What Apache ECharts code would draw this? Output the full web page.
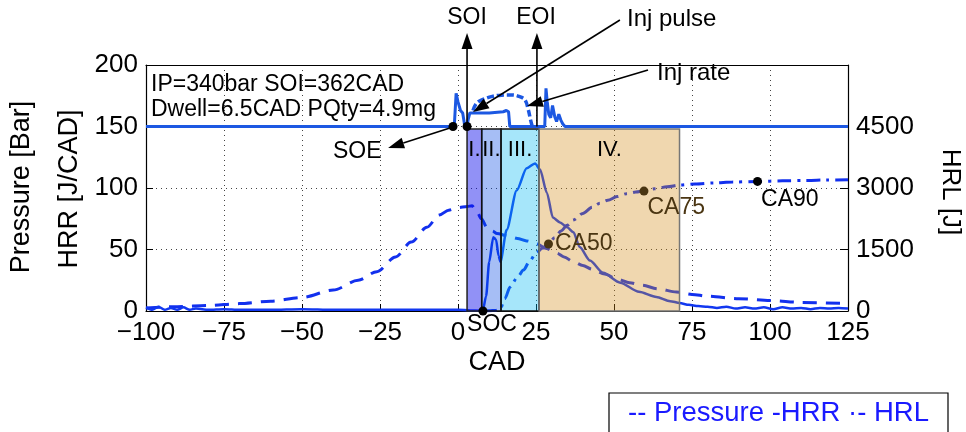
<!DOCTYPE html>
<html>
<head>
<meta charset="utf-8">
<script src="https://cdn.jsdelivr.net/npm/echarts@6/dist/echarts.min.js"></script>
<style>
  html, body { margin: 0; padding: 0; background: #fff; }
  #main { width: 966px; height: 432px; }
</style>
</head>
<body>
<div id="main"></div>
<script>
// crank angle axis
const cadMin = -100, cadMax = 125, cadStep = 25;

// cylinder pressure [bar]
const pressureCad = [-100,-90,-80,-70,-60,-50,-40,-32,-26,-20,-15,-10,-6,-3,0,3,4.5,6,7.5,9.3,11,12.5,16,19,22,25,28,31.7,34,37,40,43,47,51,55,59,64,70,75,80,90,100,110,125];
const pressureBar = [2.5,3.5,4.5,6,8,11,17,25,32,44,56,68,78,82,84,85,85.5,81,75,68,65,63,61,59,57,55,51,47,44,40,37,34,30,26,23,21,18,15.5,13.5,12,10,8.5,7,6];

// heat release rate [J/CAD]
const hrrCad = [-100,-98,-96,-94,-92,-90,-88,-86,-84,-80,-75,-70,-60,-50,-40,-30,-20,-10,0,4,7,8,9,10,11.3,12.2,13,13.6,15.6,18.8,22,24.7,26.3,28.5,30.4,32.7,35,37,39,42.3,46.5,52,58,63.6,68,71,74,77,80,83,86,89,92,95,98,101,104,107,110,113,116,119,122,125];
const hrrVal = [3,1,3.5,1,2.5,1,3,1,2,1,1.5,1,1,1.5,1,1,1,1,1,0.5,0.3,1,12,40,60,58,45,40,66,98,116,120,115,96,76,72,68,64,52,41,31,23,15.6,11.4,8,6.5,5,4,3.5,2.5,3.5,2,3,2,3,1.5,3,2,2.5,1.5,2.5,2,2.5,2];

// cumulative heat release [J]
const hrlCad = [8,10,12,13.5,15,16.7,19,21,23,25,27,29,31,33,35,37,40,43,45.5,48,51,54,57,59.6,63,67,71,76,82,88,96,104,112,118,125];
const hrlJ = [0,5,15,40,300,585,820,1000,1220,1410,1530,1635,1790,1950,2090,2220,2380,2530,2630,2700,2790,2860,2900,2925,2980,3030,3070,3100,3125,3145,3160,3175,3185,3195,3200];

// injector signals (drawn on the pressure scale)
const injPulseCad = [-100,-2,-1.2,-0.6,0,0.8,1.5,2.2,2.9,3.3,3.8,10,14.5,15.5,16.2,16.6,27.8,28.2,28.6,29.1,29.7,30.3,31,31.6,32.3,33,33.6,34.3,125];
const injPulseVal = [150,150,150,177,170,163,161,150,150,156,161,161,162,163,162,150,150,181,170,160,157,167,158,154,160,155,152,150,150];
const injRateCad = [4.8,6,8,11,14,17.5,20,21.5,22.5,23.2,23.8];
const injRateVal = [163,169,172,174.5,175.5,175.6,174,171.5,164,156,150];

// combustion phases
const phaseNames = ['I.', 'II.', 'III.', 'IV.'];
const phaseStart = [2.9, 7.6, 13.8, 26];
const phaseEnd = [7.6, 13.8, 26, 71];
const phaseTop = 148;

// events
const eventNames = ['SOE', 'SOI', 'SOC'];
const eventCad = [-1.6, 2.9, 8];
const eventVal = [150, 150, 0];
const caNames = ['CA50', 'CA75', 'CA90'];
const caCad = [29, 59.6, 96];
const caJ = [1635, 2925, 3160];

const FONT = "'Liberation Sans', Arial, Helvetica, sans-serif";
const chart = echarts.init(document.getElementById('main'));

function pairs(xs, ys) {
  return xs.map((x, i) => [x, ys[i]]);
}

const phaseFill = ['rgba(10,10,235,0.45)', 'rgba(0,69,226,0.35)', 'rgba(0,183,240,0.35)', 'rgba(211,140,26,0.35)'];
const phaseBorder = ['#222', '#111', '#111', '#777'];
const brown = '#4a3512';

var option = {
  animation: false,
  grid: { left: 146, right: 118, top: 65, bottom: 121 },
  xAxis: [{
    type: 'value', min: cadMin, max: cadMax, interval: cadStep,
    axisLine: { onZero: false, lineStyle: { color: '#000', width: 1.2 } },
    axisTick: { inside: true, length: 7, lineStyle: { color: '#000' } },
    axisLabel: {
      fontSize: 26, fontFamily: FONT, color: '#000', margin: 9,
      formatter: v => v < 0 ? '\u2212' + Math.abs(v) : String(v)
    },
    splitLine: { show: true, lineStyle: { type: [1, 4], color: '#444', width: 1 } }
  }, {
    type: 'value', position: 'top', min: cadMin, max: cadMax, interval: cadStep,
    axisLine: { show: true, onZero: false, lineStyle: { color: '#000', width: 1.2 } },
    axisTick: { show: false },
    axisLabel: { show: false },
    splitLine: { show: false }
  }],
  yAxis: [{
    type: 'value', min: 0, max: 200, interval: 50,
    axisLine: { show: true, onZero: false, lineStyle: { color: '#000', width: 1.2 } },
    axisTick: { show: true, inside: true, length: 7, lineStyle: { color: '#000' } },
    axisLabel: { fontSize: 26, fontFamily: FONT, color: '#000', margin: 8 },
    splitLine: { show: true, lineStyle: { type: [1, 4], color: '#444', width: 1 } }
  }, {
    type: 'value', min: 0, max: 6000, interval: 1500, position: 'right',
    axisLine: { show: true, onZero: false, lineStyle: { color: '#000', width: 1.2 } },
    axisTick: { show: true, inside: true, length: 8, lineStyle: { color: '#000' } },
    axisLabel: {
      fontSize: 26, fontFamily: FONT, color: '#000', margin: 8,
      formatter: v => v >= 6000 ? '' : String(v)
    },
    splitLine: { show: false }
  }],
  series: [{
    name: 'Pressure', type: 'line', data: pairs(pressureCad, pressureBar),
    smooth: 0.3, smoothMonotone: 'x', symbol: 'none', z: 2,
    lineStyle: { color: '#1230ee', width: 3, type: [14, 9] }
  }, {
    name: 'HRR', type: 'line', data: pairs(hrrCad, hrrVal),
    smooth: 0.25, smoothMonotone: 'x', symbol: 'none', z: 2,
    lineStyle: { color: '#1238f0', width: 2.5 },
    markArea: {
      silent: true, z: 4,
      label: { position: 'insideTop', distance: 11, fontSize: 22, fontFamily: FONT, color: '#000' },
      data: phaseNames.map((n, i) => [
        { name: n, coord: [phaseStart[i], 0], itemStyle: { color: phaseFill[i], borderColor: phaseBorder[i], borderWidth: 1.5 } },
        { coord: [phaseEnd[i], phaseTop] }
      ])
    }
  }, {
    name: 'HRL', type: 'line', yAxisIndex: 1, data: pairs(hrlCad, hrlJ),
    smooth: 0.3, smoothMonotone: 'x', symbol: 'none', z: 2,
    lineStyle: { color: '#1230ee', width: 3, type: [14, 6, 3, 6] }
  }, {
    name: 'Inj pulse', type: 'line', data: pairs(injPulseCad, injPulseVal),
    symbol: 'none', z: 2,
    lineStyle: { color: '#1c58e2', width: 3 }
  }, {
    name: 'Inj rate', type: 'line', data: pairs(injRateCad, injRateVal),
    smooth: 0.4, symbol: 'none', z: 2,
    lineStyle: { color: '#1c58e2', width: 3.5, type: [7, 3] }
  }, {
    name: 'events', type: 'scatter', z: 8,
    symbolSize: 9, itemStyle: { color: '#000', opacity: 1 },
    data: eventCad.map((x, i) => ({
      value: [x, eventVal[i]], name: eventNames[i],
      label: eventNames[i] === 'SOC' ? {
        show: true, formatter: '{b}', position: 'bottom', distance: -2, offset: [9, 0],
        fontSize: 23, fontFamily: FONT, color: '#000', opacity: 1
      } : { show: false }
    }))
  }, {
    name: 'ca', type: 'scatter', yAxisIndex: 1, z: 8,
    symbolSize: 9,
    data: caCad.map((x, i) => ({
      value: [x, caJ[i]], name: caNames[i],
      itemStyle: { color: i < 2 ? brown : '#000', opacity: 1 },
      label: {
        show: true, formatter: '{b}', position: 'right',
        distance: i === 0 ? 2 : 1, offset: i === 0 ? [0, 0] : [-2, i === 1 ? 17 : 18],
        fontSize: 23, fontFamily: FONT, color: i < 2 ? brown : '#000', opacity: 1
      }
    }))
  }]
};
chart.setOption(option);

// annotation arrows, placed through the axes
function toPx(p) {
  return chart.convertToPixel({ xAxisIndex: 0, yAxisIndex: 0 }, p);
}
function arrow(from, to) {
  const a = toPx(from), b = toPx(to);
  const dx = b[0] - a[0], dy = b[1] - a[1];
  const len = Math.hypot(dx, dy), ux = dx / len, uy = dy / len;
  const hl = 16, hw = 5.5;
  const bx = b[0] - ux * hl, by = b[1] - uy * hl;
  return [{
    type: 'line', z: 20, silent: true,
    shape: { x1: a[0], y1: a[1], x2: bx, y2: by },
    style: { stroke: '#000', lineWidth: 1.6 }
  }, {
    type: 'polygon', z: 20, silent: true,
    shape: { points: [[b[0], b[1]], [bx - uy * hw, by + ux * hw], [bx + uy * hw, by - ux * hw]] },
    style: { fill: '#000' }
  }];
}
function label(text, x, y, size, opts) {
  opts = opts || {};
  return {
    type: 'text', x: x, y: y, z: 21, silent: true, rotation: opts.rot || 0,
    style: {
      text: text, fontSize: size, fontFamily: FONT, fill: opts.color || '#000',
      textAlign: opts.align || 'left', align: opts.align || 'left',
      textVerticalAlign: 'middle', verticalAlign: 'middle'
    }
  };
}

const graphics = []
  .concat(arrow([2.9, 150], [2.9, 226]))
  .concat(arrow([25.3, 150], [25.3, 226]))
  .concat(arrow([51.9, 236.6], [4.8, 161.8]))
  .concat(arrow([60.9, 195.9], [22.1, 166.7]))
  .concat(arrow([-1.6, 149.6], [-22.4, 132.5]));

graphics.push(
  label('SOI', 467, 18, 23, { align: 'center' }),
  label('EOI', 536, 18, 23, { align: 'center' }),
  label('Inj pulse', 627, 19, 24),
  label('Inj rate', 657, 73, 24),
  label('SOE', 333, 152, 23),
  label('IP=340bar SOI=362CAD', 151, 85, 23),
  label('Dwell=6.5CAD PQty=4.9mg', 151, 110, 23),
  label('CAD', 497, 363, 27, { align: 'center' }),
  label('Pressure [Bar]', 22, 187, 27, { align: 'center', rot: Math.PI / 2 }),
  label('HRR [J/CAD]', 70, 189, 27, { align: 'center', rot: Math.PI / 2 }),
  label('HRL [J]', 950, 192, 26, { align: 'center', rot: -Math.PI / 2 }),
  {
    type: 'rect', z: 20, silent: true,
    shape: { x: 609, y: 393, width: 339, height: 50 },
    style: { fill: '#fff', stroke: '#000', lineWidth: 1.2 }
  },
  label('-- Pressure -HRR \u00b7- HRL', 628, 413, 27.5, { color: '#1a1aff' })
);

chart.setOption({ graphic: graphics });
</script>
</body>
</html>
